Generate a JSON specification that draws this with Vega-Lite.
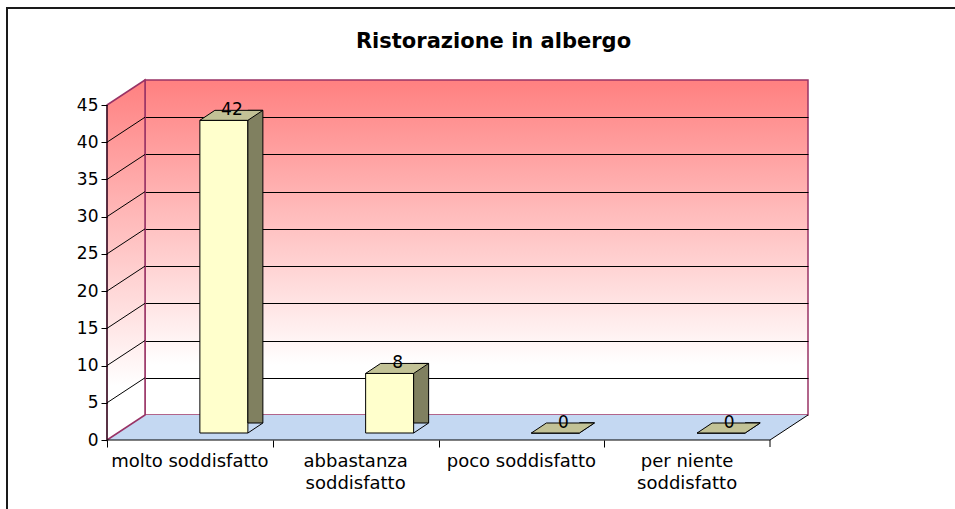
{
  "$schema": "https://vega.github.io/schema/vega-lite/v6.json",
  "width": 663,
  "height": 335,
  "autosize": {"type": "none"},
  "padding": {"left": 145, "top": 80, "right": 147, "bottom": 94},
  "background": "white",
  "config": {"font": "DejaVu Sans"},
  "view": {
    "fill": {"gradient": "linear", "x1": 0, "y1": 0, "x2": 0, "y2": 1,
      "stops": [{"offset": 0, "color": "#FF8080"}, {"offset": 0.85, "color": "#FFFFFF"}, {"offset": 1, "color": "#FFFFFF"}]},
    "stroke": "#993366",
    "strokeWidth": 1.5
  },
  "title": {"text": "Ristorazione in albergo", "fontSize": 21, "fontWeight": "bold", "font": "DejaVu Sans", "color": "black", "anchor": "middle", "dx": 17, "offset": -65, "baseline": "alphabetic"},
  "datasets": {
    "voti": [
      {"categoria": "molto soddisfatto", "valore": 42},
      {"categoria": "abbastanza\nsoddisfatto", "valore": 8},
      {"categoria": "poco soddisfatto", "valore": 0},
      {"categoria": "per niente\nsoddisfatto", "valore": 0}
    ],
    "base": [{"k": 0}]
  },
  "encoding": {
    "x": {"field": "categoria", "type": "nominal", "sort": null,
      "scale": {"paddingInner": 0, "paddingOuter": 0},
      "axis": {"orient": "bottom", "offset": 25, "tickOffset": -120.875, "title": null, "domain": false,
        "tickColor": "black", "tickSize": 7, "labels": false, "zindex": 1}}
  },
  "layer": [
    {
      "data": {"name": "base"},
      "mark": {"type": "point", "shape": "M-3.695,0.25 L-3.315,0 L3.315,0 L2.935,0.25 Z", "size": 40000, "filled": true, "fill": "#C4D8F2", "strokeWidth": 0, "opacity": 1},
      "encoding": {"x": null, "y": {"datum": 0, "type": "quantitative", "axis": null}}
    },
    {
      "data": {"name": "base"},
      "mark": {"type": "point", "shape": "M-3.695,-3.1 L-3.315,-3.35 L-3.315,0 L-3.695,0.25 Z", "size": 40000, "filled": true,
        "fill": {"gradient": "linear", "x1": 0, "y1": 0, "x2": 0, "y2": 1,
          "stops": [{"offset": 0, "color": "#FF8080"}, {"offset": 0.85, "color": "#FFFFFF"}, {"offset": 1, "color": "#FFFFFF"}]},
        "stroke": "#993366", "strokeWidth": 1.5, "opacity": 1},
      "encoding": {"x": null, "y": {"datum": 0, "type": "quantitative", "axis": null}}
    },
    {
      "data": {"name": "base"},
      "mark": {"type": "point", "shape": "M-3.695,-0.1222 L-3.315,-0.3722 M-3.695,-0.4944 L-3.315,-0.7444 M-3.695,-0.8666 L-3.315,-1.1166 M-3.695,-1.2389 L-3.315,-1.4889 M-3.695,-1.6111 L-3.315,-1.8611 M-3.695,-1.9833 L-3.315,-2.2333 M-3.695,-2.3555 L-3.315,-2.6055 M-3.695,-2.7278 L-3.315,-2.9778 M2.935,0.25 L3.315,0 M-3.695,-3.1 L-3.695,0.25 L2.935,0.25 M2.935,0.25 L2.935,0.32", "size": 40000, "filled": false, "fill": null, "stroke": "black", "strokeWidth": 1, "opacity": 1},
      "encoding": {"x": null, "y": {"datum": 0, "type": "quantitative", "axis": null}}
    },
    {
      "data": {"name": "base"},
      "mark": {"type": "point", "shape": "M4.835,-4.07 L-4.695,-4.07 L-4.695,1.0", "size": 40000, "filled": false, "fill": null, "stroke": "#1a1a1a", "strokeWidth": 2, "opacity": 1},
      "encoding": {"x": null, "y": {"datum": 0, "type": "quantitative", "axis": null}}
    },
    {
      "data": {"name": "voti"},
      "mark": {"type": "bar", "width": 48, "xOffset": -4, "yOffset": 18, "y2Offset": 18, "fill": "#FFFFCC", "stroke": "black", "strokeWidth": 1},
      "encoding": {
        "y": {"field": "valore", "type": "quantitative",
          "scale": {"domain": [0, 45], "nice": false},
          "axis": {"orient": "left", "grid": true, "gridColor": "black", "gridWidth": 1, "gridOpacity": 1,
            "values": [5, 10, 15, 20, 25, 30, 35, 40], "domain": false, "ticks": false, "labels": false, "title": null}}
      }
    },
    {
      "data": {"name": "voti"},
      "mark": {"type": "bar", "width": 15, "xOffset": 27.5, "yOffset": 8, "y2Offset": 18, "fill": "#808060", "stroke": "black", "strokeWidth": 1},
      "encoding": {
        "y": {"field": "valore", "type": "quantitative", "axis": null}
      }
    },
    {
      "data": {"name": "voti"},
      "mark": {"type": "point", "shape": "M0.49,0.03 L0.8,0.03 L0.8,-0.2 Z", "size": 10000, "filled": true, "fill": "#C4D8F2", "strokeWidth": 0, "opacity": 1, "xOffset": -4, "yOffset": 18},
      "encoding": {
        "y": {"datum": 0, "type": "quantitative", "axis": null}
      }
    },
    {
      "data": {"name": "voti"},
      "mark": {"type": "point", "shape": "M0.48,0 L0.78,-0.2", "size": 10000, "filled": false, "fill": null, "stroke": "black", "strokeWidth": 1, "opacity": 1, "xOffset": -4, "yOffset": 18},
      "encoding": {
        "y": {"datum": 0, "type": "quantitative", "axis": null}
      }
    },
    {
      "data": {"name": "voti"},
      "mark": {"type": "point", "shape": "M-0.48,0 L0.48,0 L0.78,-0.2 L-0.18,-0.2 Z", "size": 10000, "filled": true, "fill": "#C2C296", "stroke": "black", "strokeWidth": 1, "opacity": 1, "xOffset": -4, "yOffset": 18},
      "encoding": {
        "y": {"field": "valore", "type": "quantitative", "axis": null}
      }
    },
    {
      "data": {"name": "voti"},
      "mark": {"type": "text", "fontSize": 17, "font": "DejaVu Sans", "color": "black", "baseline": "middle", "align": "center", "xOffset": 4, "yOffset": 7.5},
      "encoding": {
        "y": {"field": "valore", "type": "quantitative",
          "axis": {"orient": "left", "offset": 38, "tickOffset": 25, "values": [0, 5, 10, 15, 20, 25, 30, 35, 40, 45], "grid": false,
            "domain": false, "tickColor": "black", "tickSize": 6, "labelFontSize": 17, "labelFont": "DejaVu Sans", "labelColor": "black",
            "labelPadding": 3, "title": null, "zindex": 1}},
        "text": {"field": "valore", "type": "quantitative"}
      }
    },
    {
      "data": {"name": "voti"},
      "mark": {"type": "text", "fontSize": 18, "font": "DejaVu Sans", "color": "black", "baseline": "top", "align": "center", "lineBreak": "\n", "lineHeight": 22, "xOffset": -38, "yOffset": 38},
      "encoding": {
        "y": {"datum": 0, "type": "quantitative", "axis": null},
        "text": {"field": "categoria", "type": "nominal"}
      }
    }
  ],
  "resolve": {"axis": {"y": "independent"}}
}
